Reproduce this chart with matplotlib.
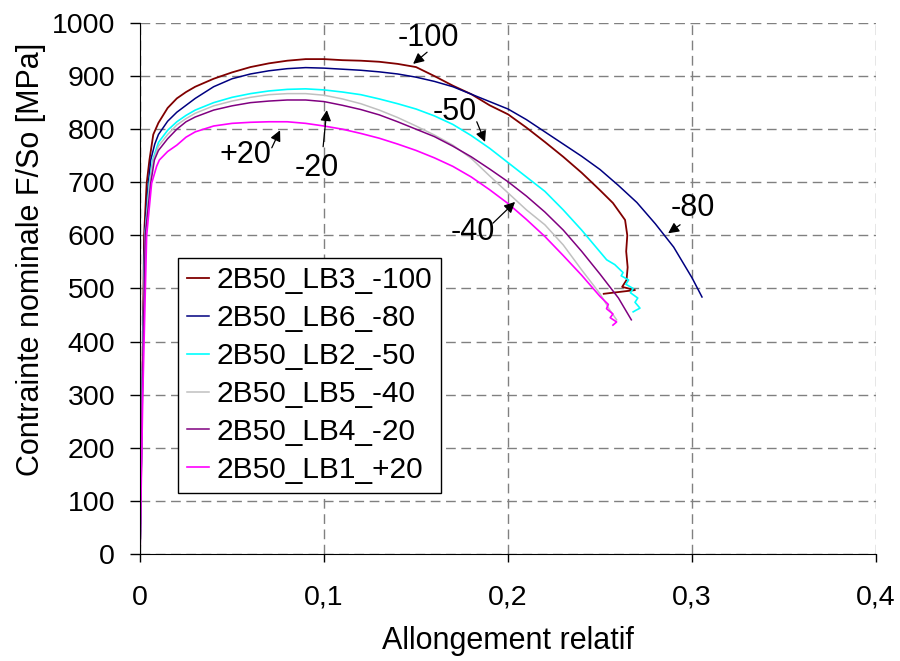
import matplotlib
matplotlib.use("Agg")
import matplotlib.pyplot as plt
from matplotlib.ticker import FuncFormatter, MultipleLocator

plt.rcParams["font.family"] = ["Liberation Sans", "DejaVu Sans"]

# curves (strain, nominal stress MPa)
red_x = [0, 0.0012, 0.0022, 0.0036, 0.0051, 0.0072, 0.01, 0.015, 0.02, 0.025, 0.03, 0.04,
         0.05, 0.06, 0.07, 0.08, 0.09, 0.10, 0.11, 0.12, 0.13, 0.14, 0.15, 0.16, 0.17,
         0.18, 0.19, 0.20, 0.21, 0.22, 0.23, 0.24, 0.25, 0.257, 0.2636, 0.2648, 0.2642,
         0.2650, 0.2644, 0.262, 0.269, 0.252]
red_y = [0, 300, 600, 698, 742, 790, 812, 840, 858, 870, 880, 895,
         907, 917, 924, 929, 932, 932, 930, 929, 927, 923, 917, 900, 882,
         866, 845, 828, 803, 776, 748, 718, 685, 661, 629, 600, 570,
         540, 516, 503, 497, 490]

blue_x = [0, 0.0012, 0.0025, 0.0045, 0.0058, 0.008, 0.01, 0.015, 0.02, 0.025, 0.03, 0.04,
          0.05, 0.06, 0.07, 0.08, 0.09, 0.10, 0.11, 0.12, 0.13, 0.14, 0.15, 0.16, 0.17,
          0.18, 0.19, 0.20, 0.21, 0.22, 0.23, 0.24, 0.25, 0.26, 0.27, 0.28, 0.29, 0.30,
          0.3054]
blue_y = [0, 300, 600, 698, 742, 772, 790, 815, 832, 845, 858, 880,
          895, 904, 910, 914, 916, 915, 913, 911, 908, 904, 898, 890, 880,
          866, 852, 838, 818, 795, 772, 749, 724, 694, 662, 622, 578, 520,
          484]

cyan_x = [0, 0.0012, 0.0027, 0.005, 0.0069, 0.01, 0.015, 0.02, 0.025, 0.03, 0.04, 0.05,
          0.06, 0.07, 0.08, 0.09, 0.10, 0.11, 0.12, 0.13, 0.14, 0.15, 0.16, 0.17, 0.18,
          0.19, 0.20, 0.21, 0.22, 0.23, 0.24, 0.2536, 0.258, 0.2625, 0.2615, 0.2655, 0.264,
          0.268, 0.2665, 0.2705, 0.269, 0.2717, 0.2695, 0.268]
cyan_y = [0, 300, 600, 698, 742, 775, 798, 814, 826, 836, 850, 860,
          867, 872, 875, 876, 874, 870, 865, 857, 848, 838, 825, 809, 788,
          764, 737, 710, 683, 648, 610, 554, 545, 530, 524, 516, 508,
          500, 492, 482, 474, 463, 459, 456]

gray_x = [0, 0.0012, 0.0027, 0.0052, 0.0072, 0.01, 0.015, 0.02, 0.025, 0.03, 0.04, 0.05,
          0.06, 0.07, 0.08, 0.09, 0.10, 0.11, 0.12, 0.13, 0.14, 0.15, 0.16, 0.17, 0.18,
          0.19, 0.20, 0.21, 0.22, 0.23, 0.24, 0.25, 0.2554, 0.259]
gray_y = [0, 300, 600, 698, 742, 768, 790, 808, 820, 830, 844, 853,
          860, 865, 867, 867, 864, 857, 848, 836, 822, 806, 789, 770, 745,
          712, 680, 648, 620, 582, 535, 490, 459, 441]

purple_x = [0, 0.0012, 0.0028, 0.0058, 0.0078, 0.01, 0.015, 0.02, 0.025, 0.03, 0.04, 0.05,
            0.06, 0.07, 0.08, 0.09, 0.10, 0.11, 0.12, 0.13, 0.14, 0.15, 0.16, 0.17, 0.18,
            0.19, 0.20, 0.21, 0.22, 0.23, 0.24, 0.25, 0.26, 0.267]
purple_y = [0, 300, 600, 698, 742, 760, 782, 800, 814, 823, 836, 844,
            850, 853, 855, 855, 852, 845, 837, 827, 814, 800, 786, 768, 748,
            725, 701, 674, 644, 610, 570, 527, 482, 441]

magenta_x = [0, 0.0015, 0.0036, 0.0063, 0.009, 0.0105, 0.015, 0.02, 0.025, 0.03, 0.04,
             0.05, 0.06, 0.07, 0.08, 0.09, 0.10, 0.11, 0.12, 0.13, 0.14, 0.15, 0.16,
             0.17, 0.18, 0.19, 0.20, 0.21, 0.22, 0.23, 0.24, 0.25, 0.2545, 0.2535, 0.257,
             0.2555, 0.259, 0.257]
magenta_y = [0, 300, 600, 698, 730, 742, 758, 770, 785, 795, 806,
             811, 813, 814, 814, 811, 806, 800, 792, 783, 772, 760, 746,
             730, 710, 686, 660, 630, 598, 562, 525, 485, 470, 462, 452,
             445, 437, 431]

labels = ["2B50_LB3_-100", "2B50_LB6_-80", "2B50_LB2_-50",
          "2B50_LB5_-40", "2B50_LB4_-20", "2B50_LB1_+20"]
colors = ["#800000", "#000080", "#00ffff", "#c0c0c0", "#800080", "#ff00ff"]
widths = [1.3, 1.1, 1.2, 1.1, 1.1, 1.2]
series = [(red_x, red_y), (blue_x, blue_y), (cyan_x, cyan_y),
          (gray_x, gray_y), (purple_x, purple_y), (magenta_x, magenta_y)]

# annotation text: label, text position, arrow tail, arrow tip
notes = [
    ("-100", (0.1565, 972), (0.156, 945), (0.1484, 923)),
    ("-80", (0.3005, 652), (0.2935, 620), (0.287, 604)),
    ("-50", (0.1712, 832), (0.183, 814), (0.1875, 776)),
    ("-40", (0.181, 606), (0.1918, 623), (0.2038, 663)),
    ("-20", (0.0962, 727), (0.0995, 767), (0.1015, 836)),
    ("+20", (0.0571, 751), (0.0716, 765), (0.0761, 798)),
]

fig = plt.figure(figsize=(9, 6.61), dpi=100)
ax = fig.add_axes([0.1556, 0.1619, 0.8178, 0.8033])

for (x, y), c, w, lab in zip(series, colors, widths, labels):
    ax.plot(x, y, color=c, lw=w, label=lab)

for txt, tpos, tail, tip in notes:
    ax.text(tpos[0], tpos[1], txt, fontsize=22, ha="center", va="center")
    ax.annotate("", xy=tip, xytext=tail,
                arrowprops=dict(arrowstyle="-|>", color="black", lw=0.9,
                                mutation_scale=16, shrinkA=0, shrinkB=0))

ax.set_xlim(0, 0.4)
ax.set_ylim(0, 1000)
ax.xaxis.set_major_locator(MultipleLocator(0.1))
ax.yaxis.set_major_locator(MultipleLocator(100))
ax.xaxis.set_major_formatter(FuncFormatter(lambda v, p: ("%g" % round(v, 3)).replace(".", ",")))

ax.grid(True, color="#808080", lw=1, linestyle=(0, (7, 4)))
ax.set_axisbelow(True)
for s in ["top", "right"]:
    ax.spines[s].set_visible(False)
ax.tick_params(axis="y", direction="out", length=7, width=1, labelsize=20.5, pad=11)
ax.tick_params(axis="x", direction="out", length=6, width=1, labelsize=20.5, pad=16)

ax.set_xlabel("Allongement relatif", fontsize=22, labelpad=11)
ax.set_ylabel("Contrainte nominale F/So [MPa]", fontsize=22)
ax.yaxis.set_label_coords(-0.128, 0.554)

leg = ax.legend(loc="lower left", bbox_to_anchor=(0.0516, 0.1154), borderaxespad=0,
                fontsize=21.5, handlelength=0.75, handletextpad=0.25, labelspacing=0.33,
                fancybox=False, framealpha=1, edgecolor="black", borderpad=0.3)
leg.get_frame().set_linewidth(1)

fig.savefig("out.png", dpi=100)
